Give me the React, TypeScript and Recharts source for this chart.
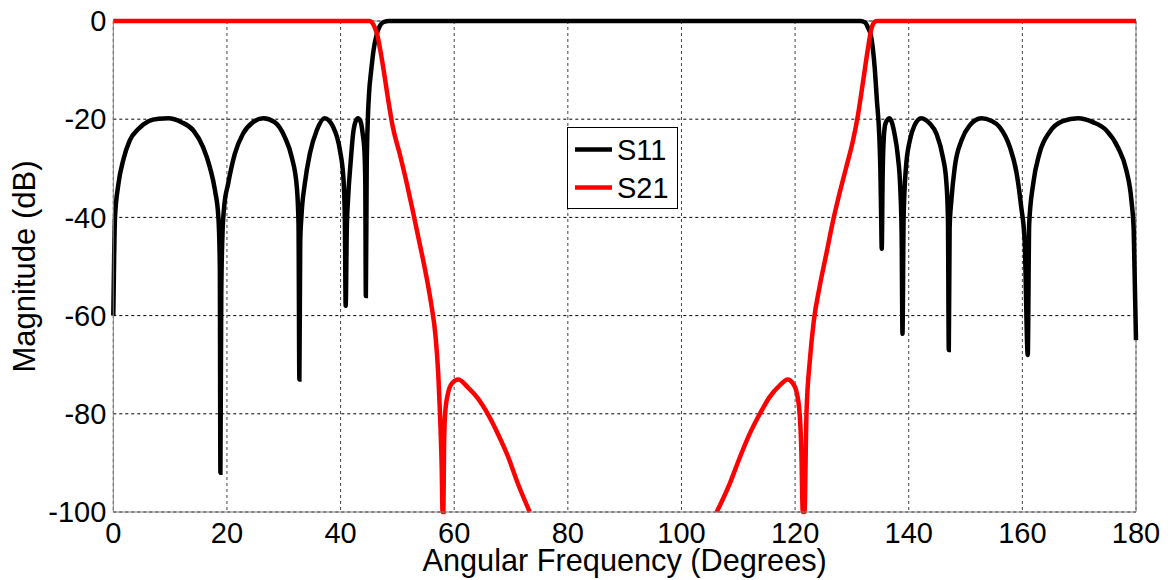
import React from 'react';
import { LineChart, Line, XAxis, YAxis, CartesianGrid, Legend, ReferenceLine, Label } from 'recharts';

const FONT = "Arial, 'Liberation Sans', sans-serif";

const xTicks = [0, 20, 40, 60, 80, 100, 120, 140, 160, 180];
const yTicks = [0, -20, -40, -60, -80, -100];
const seriesNames = ['S11', 'S21'];
const seriesColors = ['#000000', '#ff0000'];

const s11Deg = [
  0, 0.15, 0.3, 0.9, 1.8, 2.9, 4.4, 6.2, 8.0, 9.7, 12.0, 14.1, 15.8, 17.0, 17.9, 18.5, 18.75, 18.85, 19.0, 19.2, 19.5,
  20.2, 21.4, 22.8, 24.6, 26.4, 28.4, 30.2, 31.4, 32.3, 32.6, 32.75, 32.9, 33.1, 33.7, 34.6, 35.8, 37.2, 38.7, 39.9,
  40.5, 40.75, 40.9, 41.1, 41.3, 41.8, 42.2, 42.6, 43.1, 43.6, 43.9, 44.2, 44.35, 44.45, 44.6, 44.8, 45.0, 45.4, 45.8,
  46.3, 46.9, 47.6, 48.5, 90, 131.5, 132.3, 132.8, 133.4, 134.0, 134.4, 134.8, 135.0, 135.15, 135.25, 135.4, 135.6,
  135.9, 136.6, 137.5, 138.1, 138.5, 138.75, 138.9, 139.1, 139.5, 140.2, 141.0, 142.2, 143.7, 144.9, 146.0, 146.6,
  146.9, 147.05, 147.2, 147.5, 148.1, 149.3, 150.7, 152.8, 154.5, 156.0, 157.8, 159.0, 159.8, 160.4, 160.95, 161.2,
  161.9, 163.0, 164.8, 167.1, 169.8, 172.4, 174.8, 176.8, 178.3, 179.2, 179.6, 180,
];
const s11Db = [
  -60, -48, -40, -33.2, -28.1, -24.3, -22.0, -20.4, -19.9, -19.8, -20.6, -22.3, -25.7, -29.8, -34.5, -40, -50, -92, -56, -44, -38,
  -33.2, -27, -23, -20.6, -19.8, -20.6, -23.7, -27.7, -33.8, -41.3, -73, -45, -40, -33.2, -27, -22.3, -19.8, -21.6, -26.4,
  -32, -40, -58, -42, -36.6, -28.4, -23, -20.6, -19.8, -20.8, -23, -26.4, -33, -56, -30, -20, -15, -10, -6,
  -3, -1, -0.2, 0, 0, 0, -0.3, -1.3, -3.3, -9.4, -16.2, -23, -29.8, -40, -46.4, -32, -24,
  -20.9, -19.8, -23, -27.7, -33.8, -43.3, -63.7, -40, -30, -24.3, -21.3, -19.8, -20.9, -23, -27.7, -32.5,
  -40, -67, -42, -36.6, -29.8, -24.3, -21.3, -19.8, -20.3, -21.6, -25.7, -31.1, -37.9, -44.7, -68, -41.3,
  -33.2, -27, -22.6, -20.4, -19.8, -20.6, -22.3, -25.7, -30.4, -36.6, -42.7, -65,
];

const s21Deg = [
  0, 45.1, 45.6, 46.0, 46.5, 47.0, 47.5, 48.4, 49.2, 50.4, 51.6, 52.7, 53.9, 55.1, 56.0, 56.7, 57.2, 57.5, 57.8, 57.95,
  58.1, 58.2, 58.4, 58.9, 59.6, 60.7, 62.4, 64.2, 65.9, 67.7, 69.5, 71.2, 73.3, 73.5, 106.0,
  106.2, 108.5, 110.3, 112.0, 113.8, 115.5, 117.3, 118.7, 119.6, 120.2, 120.8, 121.1, 121.35, 121.65, 122.0, 122.6,
  123.3, 124.3, 125.5, 126.7, 127.8, 129.0, 130.2, 131.1, 131.9, 132.8, 133.4, 133.9, 134.4, 180,
];
const s21Db = [
  0, 0, -0.4, -1.3, -3.0, -6.0, -9.4, -16.2, -21.6, -27, -32.8, -38.6, -45.2, -52.0, -58.0, -64, -72, -80, -91, -100,
  -100, -87.5, -80, -75.9, -73.8, -73, -74.6, -76.9, -80, -84.1, -88.8, -94.2, -100, null, null,
  -100, -94.2, -88.8, -84.1, -80, -76.6, -74.2, -73, -73.8, -75.3, -80, -87.5, -100, -100, -80, -69.1,
  -61, -54.2, -47.4, -40.6, -35.2, -29.8, -24.3, -18.9, -12.8, -5.8, -1.7, -0.3, 0, 0,
];

const s11Data = s11Deg.map((x, i) => ({ x, y: s11Db[i] }));
const s21Data = s21Deg.map((x, i) => ({ x, y: s21Db[i] }));

const LegendBox = () => (
  <svg width={112} height={83} style={{ display: 'block' }}>
    <rect x={0.5} y={0.5} width={110} height={81} fill="#fff" stroke="#000" strokeWidth={1} />
    {seriesNames.map((name, i) => (
      <g key={name}>
        <line x1={8} x2={45} y1={22.5 + i * 38} y2={22.5 + i * 38} stroke={seriesColors[i]} strokeWidth={4.5} />
        <text x={50} y={22.5 + i * 38} dy="0.36em" fontSize={29} fontFamily={FONT} fill="#000">
          {name}
        </text>
      </g>
    ))}
  </svg>
);

export default function App() {
  return (
    <div style={{ marginTop: -8 }}>
      <LineChart width={1160} height={578} margin={{ top: 21, right: 32, left: 0, bottom: 4 }}>
        <CartesianGrid horizontal={false} stroke="#444" strokeDasharray="3 3" />
        <CartesianGrid vertical={false} stroke="#000" strokeDasharray="3 3" />
        <XAxis
          type="number"
          dataKey="x"
          domain={[0, 180]}
          ticks={xTicks}
          interval={0}
          tickLine={false}
          tickSize={0}
          tickMargin={10}
          height={62}
          axisLine={{ stroke: '#808080', strokeWidth: 1 }}
          tick={{ fill: '#000', fontSize: 29, fontFamily: FONT }}
        >
          <Label value="Angular Frequency (Degrees)" position="insideBottom" offset={3} fill="#000" fontSize={30.7} fontFamily={FONT} />
        </XAxis>
        <YAxis
          type="number"
          domain={[-100, 0]}
          ticks={yTicks}
          interval={0}
          width={105.3}
          tickLine={false}
          tickSize={0}
          tickMargin={7}
          axisLine={{ stroke: '#808080', strokeWidth: 1 }}
          tick={{ fill: '#000', fontSize: 29, fontFamily: FONT }}
        >
          <Label value="Magnitude (dB)" angle={-90} position="insideLeft" offset={16} fill="#000" fontSize={31} fontFamily={FONT} style={{ textAnchor: 'middle' }} />
        </YAxis>
        <ReferenceLine x={180} stroke="#808080" strokeWidth={1} />
        <ReferenceLine y={0} stroke="#808080" strokeWidth={1} />
        <Legend
          layout="vertical"
          align="center"
          verticalAlign="middle"
          content={() => <LegendBox />}
          wrapperStyle={{ left: 559.3, top: 126.7, width: 112, height: 83 }}
        />
        <Line data={s11Data} dataKey="y" name={seriesNames[0]} type="monotone" stroke={seriesColors[0]} strokeWidth={4.5} dot={false} activeDot={false} isAnimationActive={false} connectNulls={false} />
        <Line data={s21Data} dataKey="y" name={seriesNames[1]} type="monotone" stroke={seriesColors[1]} strokeWidth={4.5} dot={false} activeDot={false} isAnimationActive={false} connectNulls={false} />
      </LineChart>
    </div>
  );
}
